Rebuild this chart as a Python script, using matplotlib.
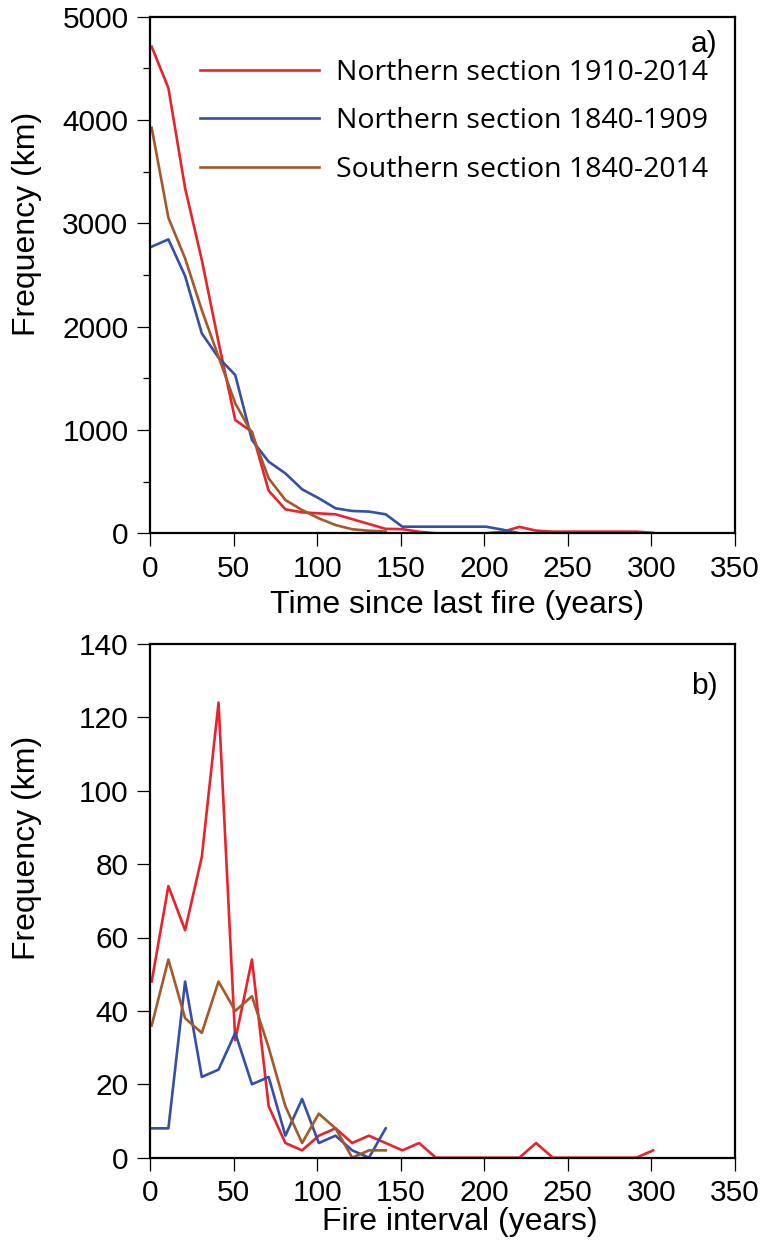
import matplotlib
matplotlib.use("Agg")
import matplotlib.pyplot as plt
from matplotlib.ticker import MultipleLocator

# ---- data ----
x_a_red = [1, 11, 21, 31, 41, 51, 61, 71, 81, 91, 101, 111, 121, 131, 141, 151, 161, 171,
           181, 191, 201, 211, 221, 231, 241, 251, 261, 271, 281, 291, 301]
y_a_red = [4710, 4310, 3340, 2645, 1850, 1096, 983, 412, 232, 203, 193, 184, 137, 90, 43, 40, 15, 0,
           0, 0, 0, 15, 62, 26, 16, 16, 16, 16, 16, 16, 5]
x_a_blue = [1, 11, 21, 31, 41, 51, 61, 71, 81, 91, 101, 111, 121, 131, 141, 151, 161, 171,
            181, 191, 201, 211, 221]
y_a_blue = [2774, 2845, 2490, 1935, 1700, 1532, 903, 693, 580, 426, 339, 242, 216, 210, 184, 64, 64, 64,
            64, 64, 64, 35, 0]
x_a_brown = [1, 11, 21, 31, 41, 51, 61, 71, 81, 91, 101, 111, 121, 131, 141]
y_a_brown = [3925, 3054, 2661, 2160, 1709, 1258, 968, 532, 322, 225, 145, 80, 39, 25, 17]

x_b_red = [1, 11, 21, 31, 41, 51, 61, 71, 81, 91, 101, 111, 121, 131, 141, 151, 161, 171,
           181, 191, 201, 211, 221, 231, 241, 251, 261, 271, 281, 291, 301]
y_b_red = [48, 74, 62, 82, 124, 32, 54, 14, 4, 2, 6, 8, 4, 6, 4, 2, 4, 0,
           0, 0, 0, 0, 0, 4, 0, 0, 0, 0, 0, 0, 2]
x_b_blue = [1, 11, 21, 31, 41, 51, 61, 71, 81, 91, 101, 111, 121, 131, 141]
y_b_blue = [8, 8, 48, 22, 24, 34, 20, 22, 6, 16, 4, 6, 2, 0, 8]
x_b_brown = [1, 11, 21, 31, 41, 51, 61, 71, 81, 91, 101, 111, 121, 131, 141]
y_b_brown = [36, 54, 38, 34, 48, 40, 44, 30, 14, 4, 12, 8, 0, 2, 2]

labels = ["Northern section 1910-2014", "Northern section 1840-1909", "Southern section 1840-2014"]
x_ticks = [0, 50, 100, 150, 200, 250, 300, 350]

RED = "#E8232B"
BLUE = "#3450A6"
BROWN = "#A5582A"

TFONT = "Liberation Sans"
LFONT = "Open Sans"
FS = 21.5
LABFS = 23

fig = plt.figure(figsize=(7.62, 12.45), dpi=100)
W, H = 762, 1245

def add_ax(left, top, right, bottom):
    return fig.add_axes([left / W, 1 - bottom / H, (right - left) / W, (bottom - top) / H])

ax1 = add_ax(150, 16.7, 735, 533.3)
ax2 = add_ax(150, 643.9, 735, 1157.7)

for ax in (ax1, ax2):
    for s in ax.spines.values():
        s.set_linewidth(1.6)
    ax.set_xlim(0, 350)
    ax.set_xticks(x_ticks)
    ax.tick_params(axis="both", which="major", direction="out", length=9.5, width=0.9,
                   labelsize=FS, pad=6)
    ax.tick_params(axis="both", which="minor", direction="out", length=4.8, width=0.9)

lw = 1.9
ax1.plot(x_a_red, y_a_red, color=RED, lw=lw, label=labels[0])
ax1.plot(x_a_blue, y_a_blue, color=BLUE, lw=lw, label=labels[1])
ax1.plot(x_a_brown, y_a_brown, color=BROWN, lw=lw, label=labels[2])
ax1.set_ylim(0, 5000)
ax1.yaxis.set_major_locator(MultipleLocator(1000))
ax1.yaxis.set_minor_locator(MultipleLocator(500))
ax1.set_xlabel("Time since last fire (years)", fontsize=LABFS, family=TFONT)
ax1.set_ylabel("Frequency (km)", fontsize=LABFS, family=TFONT)
ax1.xaxis.set_label_coords((457 - 150) / 585, (533.3 - 605) / 516.6)
ax1.yaxis.set_label_coords((27 - 150) / 585, 0.599)
ax1.xaxis.label.set_va("center")
ax1.yaxis.label.set_va("center")
ax1.text(0.97, 0.975, "a)", transform=ax1.transAxes, ha="right", va="top", fontsize=FS, family=TFONT)
leg = ax1.legend(loc="upper left", bbox_to_anchor=(50 / 585, 1 - 42 / 516.6), frameon=False,
                 prop={"family": LFONT, "size": 20.5}, handlelength=4.17, handletextpad=0.6,
                 labelspacing=0.72, borderpad=0, borderaxespad=0)

ax2.plot(x_b_red, y_b_red, color=RED, lw=lw)
ax2.plot(x_b_blue, y_b_blue, color=BLUE, lw=lw)
ax2.plot(x_b_brown, y_b_brown, color=BROWN, lw=lw)
ax2.set_ylim(0, 140)
ax2.yaxis.set_major_locator(MultipleLocator(20))
ax2.set_xlabel("Fire interval (years)", fontsize=LABFS, family=TFONT)
ax2.set_ylabel("Frequency (km)", fontsize=LABFS, family=TFONT)
ax2.xaxis.set_label_coords((460 - 150) / 585, (1157.7 - 1222) / 513.8)
ax2.yaxis.set_label_coords((27 - 150) / 585, 0.603)
ax2.xaxis.label.set_va("center")
ax2.yaxis.label.set_va("center")
ax2.text(0.97, 0.945, "b)", transform=ax2.transAxes, ha="right", va="top", fontsize=FS, family=TFONT)

for ax in (ax1, ax2):
    for lab in ax.get_xticklabels() + ax.get_yticklabels():
        lab.set_fontfamily(TFONT)

fig.savefig("out.png", dpi=100)
